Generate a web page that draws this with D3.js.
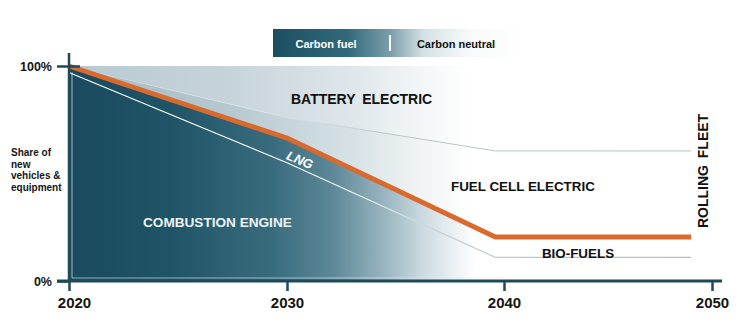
<!DOCTYPE html>
<html><head><meta charset="utf-8">
<script src="https://cdn.jsdelivr.net/npm/d3@7/dist/d3.min.js"></script>
<style>
html,body{margin:0;padding:0;background:#fff;}
svg{display:block;font-family:"Liberation Sans",Arial,sans-serif;}
</style></head>
<body>
<svg id="c" width="746" height="336"></svg>
<script>
// ---- data ----
const years = [2020, 2030, 2039.6, 2049];
const lngLower = [97, 55, 11, 11];        // combustion engine / LNG boundary, then bio-fuels lower edge
const carbonFuelLine = [100, 66.5, 20.5, 20.5]; // orange line: carbon fuel vs carbon neutral
const batteryLower = [100, 76, 60.5, 60.5]; // fuel cell / battery electric boundary
const xTicks = [2020, 2030, 2040, 2050];
const yTicks = [0, 100];
const legendLabels = ["Carbon fuel", "Carbon neutral"];

const svg = d3.select("#c");
const x = d3.scaleLinear().domain([2020, 2030, 2040, 2050]).range([69, 287, 504, 712]);
const y = d3.scaleLinear().domain([0, 100]).range([281, 66]);
const axisColor = "#1c4a5a";

const defs = svg.append("defs");
function grad(id, x1, x2, stops) {
  const g = defs.append("linearGradient").attr("id", id)
    .attr("gradientUnits", "userSpaceOnUse")
    .attr("x1", x1).attr("x2", x2).attr("y1", 0).attr("y2", 0);
  stops.forEach(s => g.append("stop").attr("offset", s[0]).attr("stop-color", s[1]).attr("stop-opacity", s[2] == null ? 1 : s[2]));
}
grad("gDark", 69, 475, [[0, "#1a4a5d"], [0.25, "#1f5467"], [0.5, "#386c7d"], [0.65, "#5d8898"], [0.78, "#9bb6c0"], [0.88, "#cfdde2"], [1, "#ffffff"]]);
grad("gFC", 69, 470, [[0, "#a6bbc5"], [0.4, "#b6c8cf"], [0.7, "#d6e1e5"], [0.9, "#f3f6f7"], [1, "#ffffff"]]);
grad("gBE", 69, 470, [[0, "#b8c9d1"], [0.4, "#c6d4da"], [0.7, "#dee6ea"], [0.9, "#f5f8f9"], [1, "#ffffff"]]);
grad("gLng", 69, 690, [[0, "#ffffff"], [0.45, "#f2f6f7"], [0.6, "#c3ced3"], [1, "#b3bfc5"]]);
grad("gUp", 69, 690, [[0, "#ffffff", 0.0], [0.3, "#e3eaed", 0.5], [0.5, "#b9c5cb"], [1, "#b3bfc5"]]);
grad("gLegend", 273, 523, [[0, "#1c4e61"], [0.3, "#336a7b"], [0.47, "#7c9fac"], [0.6, "#d3e0e4"], [0.78, "#f7f9fa"], [1, "#ffffff"]]);

const pts = arr => years.map((yr, i) => [yr, arr[i]]);

// areas
const areaBetween = (lo, hi) => d3.area()
  .x((d, i) => x(years[i])).y0((d, i) => y(lo[i])).y1((d, i) => y(hi[i]))(years);
const top100 = years.map(() => 100);
const zero = years.map(() => 0);

svg.append("path").attr("d", areaBetween(batteryLower, top100)).attr("fill", "url(#gBE)");
svg.append("path").attr("d", areaBetween(carbonFuelLine, batteryLower)).attr("fill", "url(#gFC)");
svg.append("path").attr("d", areaBetween(zero, carbonFuelLine)).attr("fill", "url(#gDark)");

// inner light rim of dark area
svg.append("line").attr("x1", x(2020) + 3).attr("x2", x(2020) + 3)
  .attr("y1", y(lngLower[0])).attr("y2", y(0) - 3)
  .attr("stroke", "#dfe9ec").attr("stroke-width", 1).attr("opacity", 0.7);
svg.append("line").attr("x1", x(2020) + 3).attr("x2", x(2040))
  .attr("y1", y(0) - 3).attr("y2", y(0) - 3)
  .attr("stroke", "#e6eef0").attr("stroke-width", 1).attr("opacity", 0.6);

const line = d3.line().x(d => x(d[0])).y(d => y(d[1]));
svg.append("path").attr("d", line(pts(batteryLower))).attr("fill", "none")
  .attr("stroke", "url(#gUp)").attr("stroke-width", 1);
svg.append("path").attr("d", line(pts(lngLower))).attr("fill", "none")
  .attr("stroke", "url(#gLng)").attr("stroke-width", 1.2);
svg.append("path").attr("d", line(pts(carbonFuelLine))).attr("fill", "none")
  .attr("stroke", "#d9692c").attr("stroke-width", 5).attr("stroke-linejoin", "miter");

// axes
const xAxis = d3.axisBottom(x).tickValues(xTicks).tickFormat(d3.format("d")).tickSize(10).tickPadding(6);
const gx = svg.append("g").attr("transform", `translate(0,${y(0)})`).call(xAxis);
gx.select(".domain").remove();
gx.selectAll(".tick line").attr("stroke", axisColor).attr("stroke-width", 2.5);
gx.selectAll(".tick text")
  .attr("font-family", "'Liberation Sans Narrow','Liberation Sans',Arial,sans-serif")
  .attr("font-size", 15).attr("font-weight", "bold").attr("fill", "#151515");
gx.selectAll(".tick").filter(d => d === 2020).select("text").attr("dx", 5);
svg.append("line").attr("x1", x(2020) - 12).attr("x2", x(2050) + 10)
  .attr("y1", y(0)).attr("y2", y(0)).attr("stroke", axisColor).attr("stroke-width", 3);

const yAxis = d3.axisLeft(y).tickValues(yTicks).tickFormat(d => d + "%").tickSize(12).tickPadding(5);
const gy = svg.append("g").attr("transform", `translate(${x(2020)},0)`).call(yAxis);
gy.select(".domain").remove();
gy.selectAll(".tick line").attr("stroke", axisColor).attr("stroke-width", 2.5);
gy.selectAll(".tick").filter(d => d === 100).select("line").attr("x2", 11).attr("x1", -12);
gy.selectAll(".tick text").attr("font-size", 12.5).attr("font-weight", "bold").attr("fill", "#151515")
  .attr("font-family", "'Liberation Sans',Arial,sans-serif");
svg.append("line").attr("x1", x(2020)).attr("x2", x(2020))
  .attr("y1", y(100) - 13).attr("y2", y(0)).attr("stroke", axisColor).attr("stroke-width", 2.5);

// y title
const yt = svg.append("text").attr("x", 11).attr("y", 156).attr("font-size", 10)
  .attr("font-weight", "bold").attr("fill", "#151515");
["Share of", "new", "vehicles &", "equipment"].forEach((t, i) =>
  yt.append("tspan").attr("x", 11).attr("dy", i === 0 ? 0 : 11.6).text(t));

// region labels
function label(txt, cx, cy, size, color, opts = {}) {
  const t = svg.append("text").attr("x", cx).attr("y", cy).attr("font-size", size)
    .attr("font-weight", "bold").attr("fill", color).attr("dominant-baseline", "central")
    .attr("text-anchor", opts.anchor || "start").text(txt);
  if (opts.rotate != null) t.attr("transform", `rotate(${opts.rotate},${cx},${cy})`);
  if (opts.ws) t.attr("word-spacing", opts.ws);
  if (opts.style) t.attr("font-style", opts.style);
  return t;
}
label("BATTERY ELECTRIC", 291, 99, 14, "#111", { ws: 3 });
label("FUEL CELL ELECTRIC", 451, 186, 13.4, "#111");
label("BIO-FUELS", 578, 253, 13.4, "#111", { anchor: "middle" });
label("COMBUSTION ENGINE", 143, 222, 13.6, "#eef3f5");
label("ROLLING FLEET", 703, 171, 14, "#111", { anchor: "middle", rotate: -90, ws: 3 });
// LNG along its band
const lngAng = Math.atan2(y(carbonFuelLine[2]) - y(carbonFuelLine[1]), x(years[2]) - x(years[1])) * 180 / Math.PI;
label("LNG", 300, 160, 13, "#ffffff", { anchor: "middle", rotate: lngAng - 3, style: "italic" });

// legend
svg.append("rect").attr("x", 273).attr("y", 29).attr("width", 250).attr("height", 28).attr("fill", "url(#gLegend)");
svg.append("line").attr("x1", 390).attr("x2", 390).attr("y1", 35).attr("y2", 51)
  .attr("stroke", "#ffffff").attr("stroke-width", 2);
svg.append("text").attr("x", 326).attr("y", 43.5).attr("text-anchor", "middle").attr("dominant-baseline", "central")
  .attr("font-size", 11).attr("font-weight", "bold").attr("fill", "#ffffff").text(legendLabels[0]);
svg.append("text").attr("x", 456).attr("y", 43.5).attr("text-anchor", "middle").attr("dominant-baseline", "central")
  .attr("font-size", 11).attr("font-weight", "bold").attr("fill", "#111").text(legendLabels[1]);
</script>
</body></html>
